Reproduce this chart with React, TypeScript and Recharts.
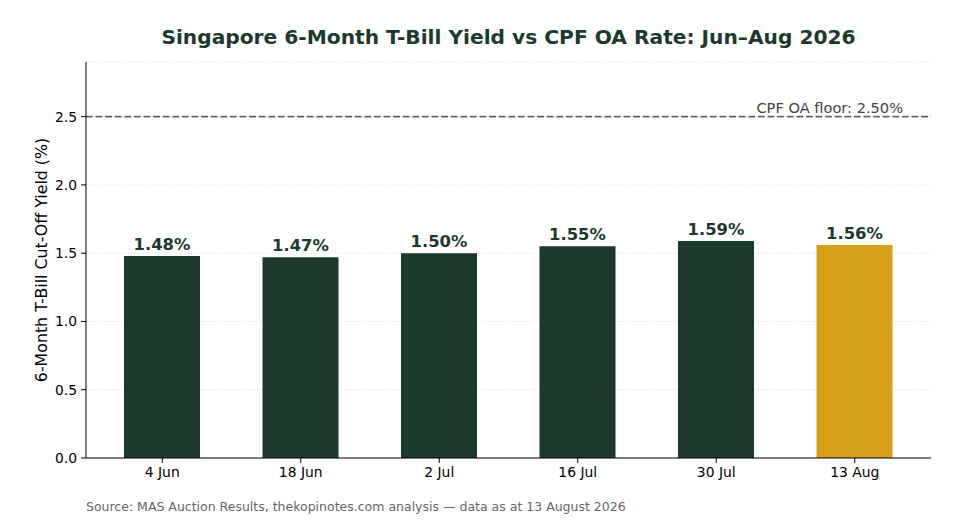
import React from 'react';
import {
  Bar,
  BarChart,
  CartesianGrid,
  Cell,
  LabelList,
  ReferenceLine,
  XAxis,
  YAxis,
} from 'recharts';

const auctionDates = ['4 Jun', '18 Jun', '2 Jul', '16 Jul', '30 Jul', '13 Aug'];
const cutOffYields = [1.48, 1.47, 1.5, 1.55, 1.59, 1.56];
const yTicks = [0, 0.5, 1.0, 1.5, 2.0, 2.5];
const cpfFloor = 2.5;

const GREEN = '#1c3a2c';
const GOLD = '#d4a01a';
const FONT = '"DejaVu Sans", sans-serif';

const data = auctionDates.map((date, i) => ({ date, yield: cutOffYields[i] }));
const latest = auctionDates[auctionDates.length - 1];

const FloorLabel = (props: any) => {
  const vb = props.viewBox || {};
  return (
    <text
      x={vb.x + vb.width - 28}
      y={vb.y - 4}
      textAnchor="end"
      fill="#444444"
      fontSize={14.6}
      fontFamily={FONT}
    >
      {`CPF OA floor: ${cpfFloor.toFixed(2)}%`}
    </text>
  );
};

const App = () => {
  return (
    <div
      style={{
        position: 'absolute',
        left: 0,
        top: 0,
        width: 960,
        height: 520,
        background: '#ffffff',
        fontFamily: FONT,
      }}
    >
      {/* Title */}
      <div
        style={{
          position: 'absolute',
          left: 86,
          width: 845,
          top: 27,
          textAlign: 'center',
          fontSize: 20.2,
          lineHeight: 1,
          fontWeight: 'bold',
          color: GREEN,
          whiteSpace: 'nowrap',
        }}
      >
        Singapore 6-Month T-Bill Yield vs CPF OA Rate: Jun–Aug 2026
      </div>

      <BarChart
        width={960}
        height={520}
        data={data}
        margin={{ top: 62, right: 29, left: 0, bottom: 0 }}
        style={{ position: 'absolute', left: 0, top: 0 }}
      >
        <CartesianGrid
          vertical={false}
          stroke="#d6d6d6"
          strokeDasharray="1 2"
          strokeWidth={0.8}
        />
        <XAxis
          dataKey="date"
          height={62}
          padding={{ left: 7, right: 7 }}
          stroke="#000000"
          tickSize={5}
          tickMargin={4}
          tick={{ fill: '#000000', fontSize: 13.9, fontFamily: FONT }}
        />
        <YAxis
          width={86}
          domain={[0, 2.9]}
          ticks={yTicks}
          tickFormatter={(v: number) => v.toFixed(1)}
          stroke="#000000"
          tickSize={5}
          tickMargin={4}
          tick={{ fill: '#000000', fontSize: 13.9, fontFamily: FONT }}
          label={{
            value: '6-Month T-Bill Cut-Off Yield (%)',
            angle: -90,
            position: 'insideLeft',
            offset: 41,
            style: {
              textAnchor: 'middle',
              fill: '#000000',
              fontSize: 15.8,
              fontFamily: FONT,
            },
          }}
        />
        <ReferenceLine
          y={cpfFloor}
          stroke="#666666"
          strokeWidth={1.8}
          strokeDasharray="6.7 2.9"
          label={FloorLabel}
        />
        <Bar dataKey="yield" barSize={76} isAnimationActive={false}>
          {data.map((d) => (
            <Cell key={d.date} fill={d.date === latest ? GOLD : GREEN} />
          ))}
          <LabelList
            dataKey="yield"
            position="top"
            offset={6}
            formatter={(v: any) => `${Number(v).toFixed(2)}%`}
            fill={GREEN}
            fontSize={16.4}
            fontWeight="bold"
            fontFamily={FONT}
          />
        </Bar>
      </BarChart>

      {/* Source note */}
      <div
        style={{
          position: 'absolute',
          left: 86,
          top: 501.4,
          fontSize: 12.5,
          lineHeight: 1,
          color: '#666666',
          whiteSpace: 'nowrap',
        }}
      >
        Source: MAS Auction Results, thekopinotes.com analysis — data as at 13 August 2026
      </div>
    </div>
  );
};

export default App;
